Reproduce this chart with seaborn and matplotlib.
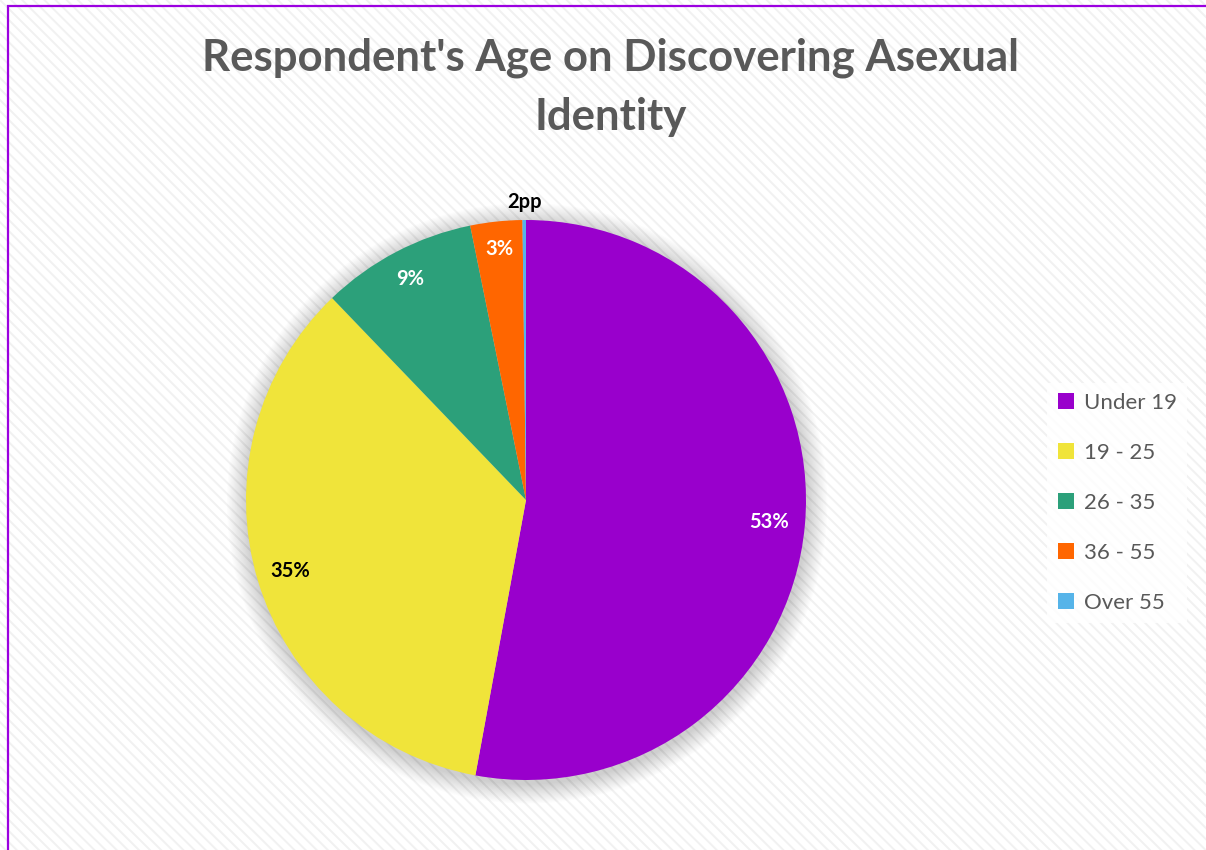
import matplotlib
matplotlib.use("Agg")
import matplotlib.pyplot as plt
from matplotlib.patches import Rectangle, Circle
from matplotlib.lines import Line2D
import numpy as np
import seaborn as sns

# Survey data: age at which respondents discovered their asexual identity
categories = ["Under 19", "19 - 25", "26 - 35", "36 - 55", "Over 55"]
shares = [53, 35, 9, 3, 0.2]
slice_labels = ["53%", "35%", "9%", "3%", "2pp"]

colors = ["#9900CC", "#F0E43A", "#2CA07A", "#FF6600", "#56B4E9"]
label_colors = ["white", "black", "white", "white", "black"]
label_radius = [0.87, 0.88, 0.89, 0.90, 1.065]

sns.set_theme(style="white")
plt.rcParams["font.family"] = ["Lato", "DejaVu Sans"]
palette = sns.color_palette(colors)

W, H = 1206, 850
fig = plt.figure(figsize=(W / 100, H / 100), dpi=100)
fig.patch.set_facecolor("white")

# Diagonal striped chart background
plt.rcParams["hatch.linewidth"] = 1.4
bg = Rectangle((0, 0), 1, 1, transform=fig.transFigure, facecolor="white",
               edgecolor="#F1F1F1", linewidth=0, hatch="\\\\\\", zorder=-10)
fig.patches.append(bg)

# Chart-area frame
frame = Rectangle((8 / W, -0.05), 1.2, (H - 6) / H + 0.05, transform=fig.transFigure,
                  facecolor="none", edgecolor="#9B00E0", linewidth=1.6, zorder=-5)
fig.patches.append(frame)

# Pie axes: centre (526, 500) px, radius 280 px
cx, cy, r = 526, 500, 280
ax = fig.add_axes([(cx - r) / W, (H - cy - r) / H, 2 * r / W, 2 * r / H])
ax.set_facecolor("none")

# Soft shadow behind the pie
for k in range(16):
    rad = 1.0 + 0.0045 * (k + 1)
    ax.add_patch(Circle((0.004, -0.012), rad, facecolor="#000000",
                        alpha=0.011, linewidth=0, zorder=0, clip_on=False))

wedges, _ = ax.pie(shares, colors=palette, startangle=90, counterclock=False,
                   radius=1.0, wedgeprops=dict(linewidth=0))
for w in wedges:
    w.set_zorder(2)

ax.set_xlim(-1, 1)
ax.set_ylim(-1, 1)
ax.set_aspect("equal")
ax.axis("off")

for w, txt, col, rr in zip(wedges, slice_labels, label_colors, label_radius):
    mid = np.deg2rad((w.theta1 + w.theta2) / 2)
    ax.text(rr * np.cos(mid), rr * np.sin(mid), txt, ha="center", va="center",
            fontsize=14.5, fontweight="bold", color=col, zorder=5, clip_on=False)

fig.text(611 / W, 1 - 58 / H, "Respondent's Age on Discovering Asexual",
         ha="center", va="center", fontsize=31.5, fontweight="bold", color="#595959")
fig.text(611 / W, 1 - 117 / H, "Identity",
         ha="center", va="center", fontsize=31.5, fontweight="bold", color="#595959")

handles = [Line2D([0], [0], marker="s", linestyle="none", markersize=11.5,
                  markerfacecolor=c, markeredgewidth=0) for c in palette]
leg = fig.legend(handles, categories, loc="upper left",
                 bbox_to_anchor=(1036 / W, 1 - 372 / H), frameon=True,
                 fontsize=16, labelspacing=1.35, handlelength=0.8,
                 handletextpad=0.4, borderpad=0.45, fancybox=False)
leg.get_frame().set_facecolor("white")
leg.get_frame().set_edgecolor("white")
leg.get_frame().set_linewidth(0)
for t in leg.get_texts():
    t.set_color("#595959")

fig.savefig("out.png", dpi=100)
